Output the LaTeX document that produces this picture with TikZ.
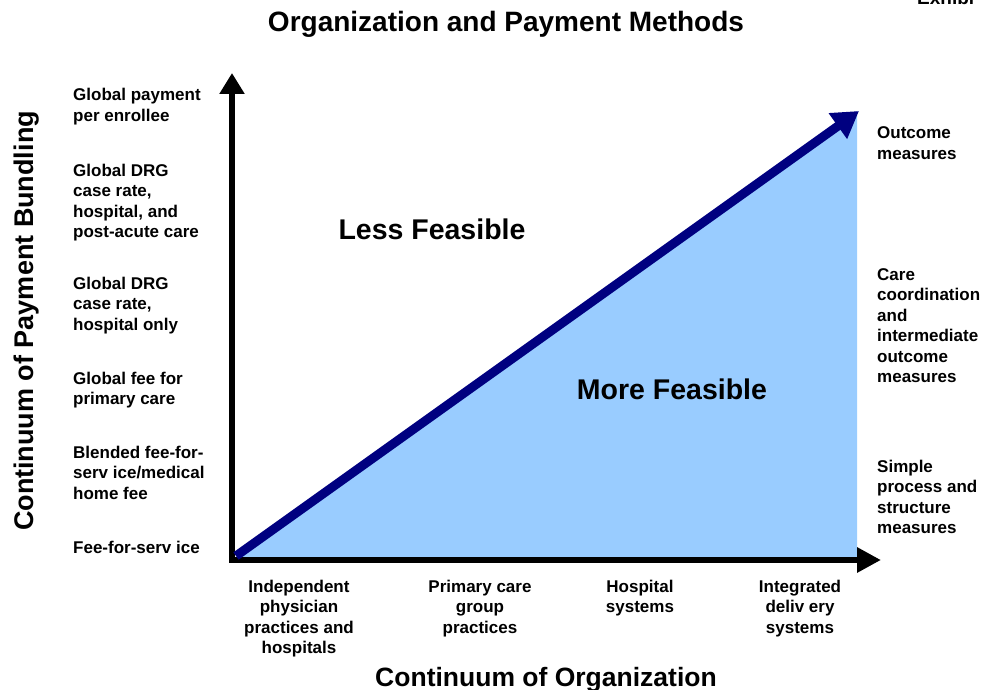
\documentclass[tikz,border=0pt]{standalone}
\usepackage{fontspec}
\setmainfont{Liberation Sans}
\usetikzlibrary{arrows.meta}
\definecolor{feasblue}{HTML}{99CCFF}
\definecolor{trendnavy}{HTML}{000080}
\begin{document}
\begin{tikzpicture}[x=1pt,y=-1pt,
    axis/.style={line width=6pt,line join=miter,{Triangle[length=21pt,width=24pt]}-{Triangle[length=24pt,width=24pt]}},
    trend/.style={line width=9pt,trendnavy,-{Triangle[length=26pt,width=30pt]}},
    lvl/.style={font=\bfseries\fontsize{17}{20.5}\selectfont,align=left,anchor=base west,inner sep=0pt},
    org/.style={font=\bfseries\fontsize{17}{20.5}\selectfont,align=center,anchor=base,inner sep=0pt},
    zone/.style={font=\bfseries\fontsize{28.5}{34}\selectfont,inner sep=0pt}]
    \useasboundingbox (0,0) rectangle (986,690);
    \coordinate (origin) at (232,560);
    \coordinate (ytip) at (232,73);
    \coordinate (xtip) at (881,560);
    \coordinate (dstart) at (236,556);
    \coordinate (dtip) at (859,111);
    % feasible region
    \fill[feasblue] (origin) -- (857,560) -- (857,111) -- cycle;
    \draw[axis] (ytip) -- (origin) -- (xtip);
    \draw[trend] (dstart) -- (dtip);
    % titles
    \node[font=\bfseries\fontsize{28}{34}\selectfont,anchor=base] (title) at (506,32) {Organization and Payment Methods};
    \node[font=\bfseries\fontsize{19}{22}\selectfont,anchor=base west,inner sep=0pt] (exh) at (917,5) {Exhibi};
    \node[font=\bfseries\fontsize{26.5}{30}\selectfont,anchor=base] (xtitle) at (546,686) {Continuum of Organization};
    \node[font=\bfseries\fontsize{27}{30}\selectfont,rotate=90,anchor=base] (ytitle) at (34,321) {Continuum of Payment Bundling};
    \node[zone] (less) at (432,229) {Less Feasible};
    \node[zone] (more) at (672,389) {More Feasible};
    % payment levels (anchored at last baseline)
    \node[lvl] (p6) at (73,121.5) {Global payment\\per enrollee};
    \node[lvl] (p5) at (73,237.5) {Global DRG\\case rate,\\hospital, and\\post-acute care};
    \node[lvl] (p4) at (73,330) {Global DRG\\case rate,\\hospital only};
    \node[lvl] (p3) at (73,404.5) {Global fee for\\primary care};
    \node[lvl] (p2) at (73,499) {Blended fee-for-\\serv ice/medical\\home fee};
    \node[lvl] (p1) at (73,553) {Fee-for-serv ice};
    % measures
    \node[lvl] (m3) at (877,159.5) {Outcome\\measures};
    \node[lvl] (m2) at (877,382.5) {Care\\coordination\\and\\intermediate\\outcome\\measures};
    \node[lvl] (m1) at (877,533.5) {Simple\\process and\\structure\\measures};
    % organization types
    \node[org] (o1) at (299,653.5) {Independent\\physician\\practices and\\hospitals};
    \node[org] (o2) at (480,633) {Primary care\\group\\practices};
    \node[org] (o3) at (640,612.5) {Hospital\\systems};
    \node[org] (o4) at (800,633) {Integrated\\deliv ery\\systems};
\end{tikzpicture}
\end{document}
